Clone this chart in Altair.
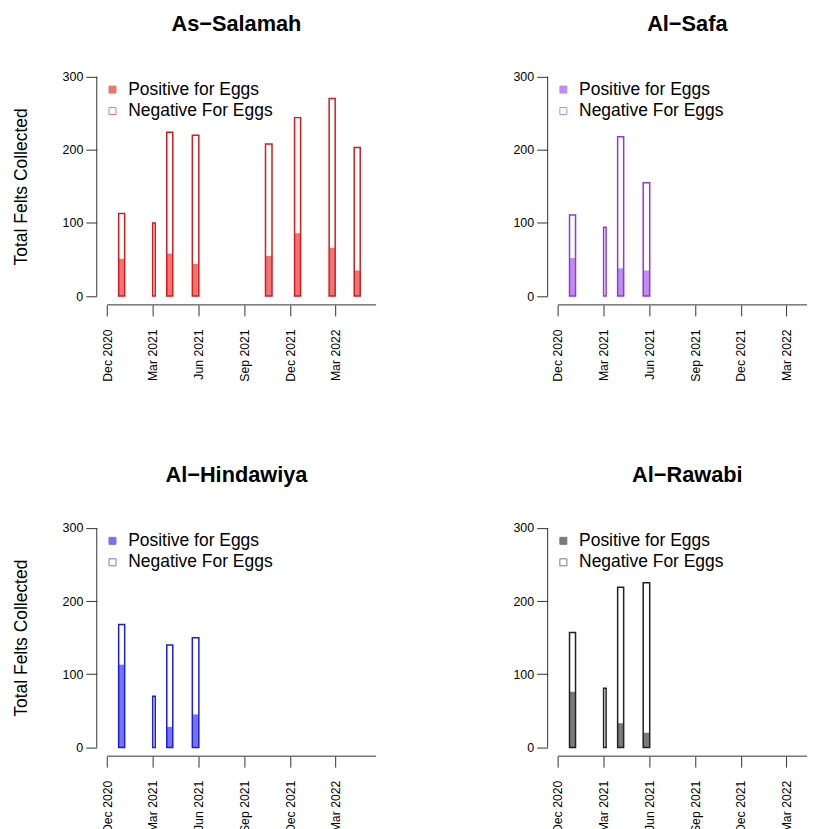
import altair as alt
import pandas as pd

# ---------------- data ----------------
sites = ["As\u2212Salamah", "Al\u2212Safa", "Al\u2212Hindawiya", "Al\u2212Rawabi"]
bar_start = ["2020-12-24", "2021-03-02", "2021-03-30", "2021-05-20",
             "2021-10-13", "2021-12-10", "2022-02-17", "2022-04-08"]
bar_end = ["2021-01-05", "2021-03-07", "2021-04-11", "2021-06-02",
           "2021-10-26", "2021-12-22", "2022-03-01", "2022-04-20"]

salamah_total = [113, 100, 224, 220, 208, 244, 270, 203]
salamah_pos = [51, 0, 58, 44, 55, 86, 66, 35]
safa_total = [111, 94, 218, 155]
safa_pos = [52, 0, 38, 35]
hindawiya_total = [168, 70, 140, 150]
hindawiya_pos = [113, 0, 28, 45]
rawabi_total = [157, 81, 219, 225]
rawabi_pos = [76, 0, 33, 20]

fill_colors = ["#F07474", "#C28BF2", "#7474F2", "#7A7A7A"]
stroke_colors = ["#D41C1C", "#9138DA", "#1E1ED4", "#222222"]

legend_labels = ["Positive for Eggs", "Negative For Eggs"]
tick_dates = ["2020-12-01", "2021-03-01", "2021-06-01", "2021-09-01", "2021-12-01", "2022-03-01"]
y_ticks = [0, 100, 200, 300]
xlim = ["2020-12-01", "2022-05-01"]
ylim = [0, 300]

# ---------------- layout helpers ----------------
W, H = 280, 237.6
W_RIGHT = 260  # right column is cropped in the reference


def ms(s):
    return pd.Timestamp(s, tz="UTC").value // 10**6


x0, x1 = ms(xlim[0]), ms(xlim[1])
xpad = 0.04 * (x1 - x0)
xd0, xd1 = x0 - xpad, x1 + xpad
ypad = 0.04 * (ylim[1] - ylim[0])
yd0, yd1 = ylim[0] - ypad, ylim[1] + ypad

FONT = "Liberation Sans"


def panel(i, total, pos, right):
    n = len(total)
    df = pd.DataFrame({
        "start": bar_start[:n],
        "end": bar_end[:n],
        "total": total,
        "pos": pos,
        "poslab": legend_labels[0],
        "neglab": legend_labels[1],
    })
    w = W_RIGHT if right else W
    dom_end = xd0 + (xd1 - xd0) * w / W
    xscale = alt.Scale(type="utc", domain=[xd0, dom_end], nice=False)
    yscale = alt.Scale(domain=[yd0, yd1], nice=False, zero=False)
    fscale = alt.Scale(domain=legend_labels, range=[fill_colors[i], "white"])

    xaxis = alt.Axis(values=[ms(d) for d in tick_dates], format="%b %Y", labelAngle=270,
                     tickSize=11, labelPadding=13, domain=False, grid=False, title=None,
                     labelFontSize=12.3, labelColor="black", tickColor="#333333",
                     labelOverlap=False, labelBound=False, labelFlush=False, labelFont=FONT)
    yaxis = alt.Axis(values=y_ticks, tickSize=11, labelPadding=3, domain=False, grid=False,
                     labelFontSize=12.5, labelColor="black", tickColor="#333333", labelFont=FONT,
                     title=None if right else "Total Felts Collected",
                     titleFontSize=17.5, titleFontWeight="normal", titleFont=FONT,
                     titleColor="black", titleX=-75, titleY=H / 2, titleAngle=270,
                     titleBaseline="middle", titleAlign="center")
    legend = alt.Legend(orient="none", legendX=7, legendY=13, title=None,
                        symbolType="square", symbolSize=49,
                        symbolStrokeColor=fill_colors[i], symbolStrokeWidth=1,
                        labelFontSize=17.5, labelFont=FONT, labelColor="black",
                        rowPadding=2.5, labelOffset=7, padding=0)

    base = alt.Chart(df)
    neg = base.mark_rect().encode(
        x=alt.X("start:T", scale=xscale, axis=xaxis),
        x2="end:T",
        y=alt.Y("total:Q", scale=yscale, axis=yaxis),
        y2=alt.datum(0),
        fill=alt.Fill("neglab:N", scale=fscale, legend=legend),
    )
    posl = base.mark_rect().encode(
        x="start:T", x2="end:T",
        y="pos:Q", y2=alt.datum(0),
        fill=alt.Fill("poslab:N", scale=fscale, legend=legend),
    )
    outline = base.mark_rect(fillOpacity=0, stroke=stroke_colors[i], strokeWidth=1.5).encode(
        x="start:T", x2="end:T", y="total:Q", y2=alt.datum(0),
    )
    yline = alt.Chart(pd.DataFrame({"a": [0]})).mark_rule(color="#333333", strokeWidth=1).encode(
        x=alt.value(0), y=alt.datum(ylim[0]), y2=alt.datum(ylim[1]),
    )
    xline = alt.Chart(pd.DataFrame({"a": [0]})).mark_rule(color="#333333", strokeWidth=1).encode(
        x=alt.datum(alt.DateTime(year=2020, month=12, date=1, utc=True)),
        x2=alt.value(w),
        y=alt.datum(yd0),
    )
    title = alt.TitleParams(text=sites[i], fontSize=21.8, fontWeight="bold", font=FONT,
                            anchor="middle", frame="group", baseline="alphabetic",
                            offset=15, color="black", dx=(W - w) / 2 if right else 0)
    return alt.layer(neg, posl, outline, yline, xline).properties(
        width=w, height=H, title=title
    )


p1 = panel(0, salamah_total, salamah_pos, False)
p2 = panel(1, safa_total, safa_pos, True)
p3 = panel(2, hindawiya_total, hindawiya_pos, False)
p4 = panel(3, rawabi_total, rawabi_pos, True)

chart = alt.concat(p1, p2, p3, p4, columns=2, spacing={"row": 214.4, "column": 172},
                   bounds="flush").resolve_scale(fill="independent").properties(
    padding={"left": 4, "top": 5, "right": 0, "bottom": 0}
).configure(font=FONT).configure_view(strokeWidth=0, stroke="transparent")

chart.save("out.html", embed_options={"renderer": "svg", "actions": False})
